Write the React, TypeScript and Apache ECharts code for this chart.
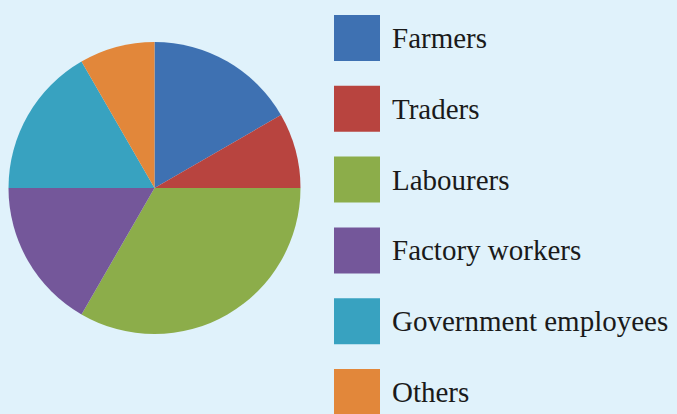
import React, { useEffect, useRef } from "react";
import * as echarts from "echarts";

const categories = ["Farmers", "Traders", "Labourers", "Factory workers", "Government employees", "Others"];
const values = [2, 1, 4, 2, 2, 1];
const colors = ["#3e71b2", "#b8443f", "#8cad4a", "#74579a", "#38a2c0", "#e2873a"];

export default function App() {
  const ref = useRef<HTMLDivElement>(null);
  useEffect(() => {
    document.body.style.margin = "0";
    const chart = echarts.init(ref.current!, null, { renderer: "svg" });
    chart.setOption({
      animation: false,
      backgroundColor: "#e0f2fb",
      color: colors,
      legend: {
        orient: "vertical",
        left: 334,
        top: 15,
        height: 460,
        padding: 0,
        itemWidth: 46,
        itemHeight: 46,
        itemGap: 24.8,
        icon: "rect",
        selectedMode: false,
        data: categories,
        textStyle: {
          fontFamily: "Liberation Serif",
          fontSize: 29,
          color: "#1a1a1a",
          padding: [0, 0, 6, 7],
        },
      },
      series: [
        {
          type: "pie",
          center: [154.5, 188],
          radius: 146,
          startAngle: 90,
          clockwise: true,
          label: { show: false },
          labelLine: { show: false },
          emphasis: { disabled: true },
          itemStyle: { borderWidth: 0 },
          data: categories.map((name, i) => ({ name, value: values[i] })),
        },
      ],
    });
    return () => chart.dispose();
  }, []);
  return <div ref={ref} style={{ position: "fixed", left: 0, top: 0, width: 677, height: 414 }} />;
}
